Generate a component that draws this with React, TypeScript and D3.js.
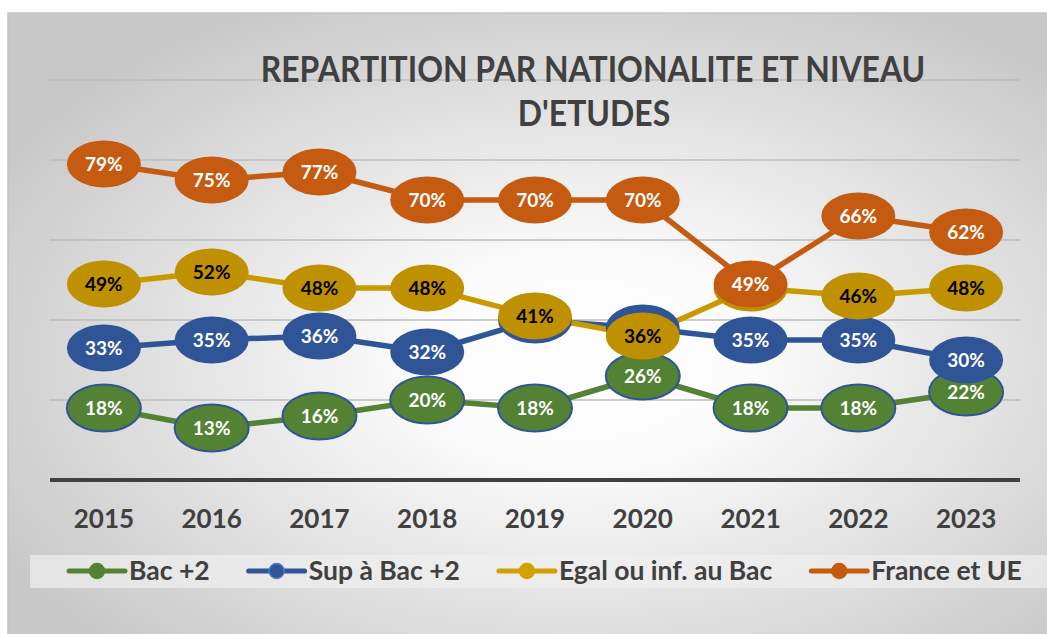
import React, { useEffect, useRef } from 'react';
import * as d3 from 'd3';

const years = ['2015', '2016', '2017', '2018', '2019', '2020', '2021', '2022', '2023'];
const bacPlus2 = [18, 13, 16, 20, 18, 26, 18, 18, 22];
const supBacPlus2 = [33, 35, 36, 32, 40, 38, 35, 35, 30];
const egalInfBac = [49, 52, 48, 48, 41, 36, 48, 46, 48];
const franceUE = [79, 75, 77, 70, 70, 70, 49, 66, 62];
const seriesNames = ['Bac +2', 'Sup à Bac +2', 'Egal ou inf. au Bac', 'France et UE'];
const yTicks = [0, 20, 40, 60, 80, 100];
const titleLines = ['REPARTITION PAR NATIONALITE ET NIVEAU', "D'ETUDES"];

const FONT = 'Lato, Carlito, Calibri, sans-serif';

export default function App() {
  const ref = useRef<SVGSVGElement>(null);

  useEffect(() => {
    const svg = d3.select(ref.current);
    svg.selectAll('*').remove();

    const series = [
      { name: seriesNames[0], values: bacPlus2, line: '#548235', fill: '#548235', stroke: '#2F5597', text: '#ffffff', legend: '#548235', mstroke: '#548235' },
      { name: seriesNames[1], values: supBacPlus2, line: '#2F5597', fill: '#2F5597', stroke: 'none', text: '#ffffff', legend: '#2F5597', mstroke: '#4a7bd0' },
      { name: seriesNames[2], values: egalInfBac, line: '#C99A00', fill: '#BF9000', stroke: 'none', text: '#000000', legend: '#D4A000', mstroke: '#D4A000' },
      { name: seriesNames[3], values: franceUE, line: '#C55A11', fill: '#C55A11', stroke: 'none', text: '#ffffff', legend: '#C55A11', mstroke: '#C55A11' },
    ];

    const defs = svg.append('defs');
    const grad = defs.append('radialGradient')
      .attr('id', 'bgGrad')
      .attr('cx', '0.55').attr('cy', '0.55').attr('r', '0.64');
    grad.append('stop').attr('offset', '0').attr('stop-color', '#ffffff');
    grad.append('stop').attr('offset', '0.25').attr('stop-color', '#fbfbfb');
    grad.append('stop').attr('offset', '1').attr('stop-color', '#c8c8c8');

    // background
    svg.append('rect').attr('x', 8).attr('y', 13).attr('width', 1045).attr('height', 630)
      .attr('fill', 'url(#bgGrad)').attr('stroke', '#c4c4c4').attr('stroke-width', 1.5);

    const x = d3.scaleBand<string>().domain(years).range([50, 1020]);
    const cx = (d: string) => (x(d) as number) + x.bandwidth() / 2;
    const y = d3.scaleLinear().domain([0, 100]).range([480, 80]);

    // gridlines
    svg.append('g').selectAll('line').data(yTicks.filter(t => t > 0)).join('line')
      .attr('x1', 50).attr('x2', 1020)
      .attr('y1', d => y(d)).attr('y2', d => y(d))
      .attr('stroke', '#bdbdbd').attr('stroke-width', 1.5);

    // title
    const tg = svg.append('g');
    const t1 = tg.append('text').text(titleLines[0])
      .attr('font-family', FONT).attr('font-weight', 700).attr('font-size', 36)
      .attr('fill', '#404040').attr('text-anchor', 'middle');
    const natural = (t1.node() as SVGTextElement).getComputedTextLength();
    const k = 665 / natural;
    t1.attr('transform', `translate(593,82) scale(${k},1)`);
    tg.append('text').text(titleLines[1])
      .attr('font-family', FONT).attr('font-weight', 700).attr('font-size', 36)
      .attr('fill', '#404040').attr('text-anchor', 'middle')
      .attr('transform', `translate(594,126) scale(${k},1)`);

    // axis line
    svg.append('line').attr('x1', 50).attr('x2', 1020).attr('y1', y(0)).attr('y2', y(0))
      .attr('stroke', '#404040').attr('stroke-width', 4);

    // year labels
    svg.append('g').selectAll('text').data(years).join('text')
      .attr('x', d => cx(d)).attr('y', 528)
      .attr('text-anchor', 'middle')
      .attr('font-family', FONT).attr('font-weight', 700).attr('font-size', 26)
      .attr('fill', '#404040').text(d => d);

    // lines
    const lineGen = d3.line<number>().x((_, i) => cx(years[i])).y(d => y(d));
    series.forEach(s => {
      svg.append('path').datum(s.values).attr('d', lineGen)
        .attr('fill', 'none').attr('stroke', s.line).attr('stroke-width', 5.5)
        .attr('stroke-linejoin', 'round');
    });

    // labels
    series.forEach(s => {
      const g = svg.append('g');
      const items = g.selectAll('g').data(s.values).join('g')
        .attr('transform', (d, i) => `translate(${cx(years[i])},${y(d)})`);
      items.append('ellipse').attr('rx', 37).attr('ry', 23.5)
        .attr('fill', s.fill).attr('stroke', s.stroke).attr('stroke-width', 2);
      items.append('text').attr('y', 6.5).attr('text-anchor', 'middle')
        .attr('font-family', FONT).attr('font-weight', 700).attr('font-size', 19)
        .attr('fill', s.text).text(d => `${d}%`);
    });

    // legend
    svg.append('rect').attr('x', 30).attr('y', 555).attr('width', 1017).attr('height', 33)
      .attr('fill', '#f0f0f0').attr('opacity', 0.7);
    let lx = 69;
    const ly = 571;
    series.forEach(s => {
      const g = svg.append('g');
      g.append('line').attr('x1', lx).attr('x2', lx + 56).attr('y1', ly).attr('y2', ly)
        .attr('stroke', s.legend).attr('stroke-width', 5).attr('stroke-linecap', 'round');
      g.append('circle').attr('cx', lx + 28).attr('cy', ly).attr('r', 7.5)
        .attr('fill', s.legend).attr('stroke', s.mstroke).attr('stroke-width', 1.5);
      const t = g.append('text').attr('x', lx + 60).attr('y', 580)
        .attr('font-family', FONT).attr('font-weight', 700).attr('font-size', 26.5)
        .attr('fill', '#404040').text(s.name);
      const w = (t.node() as SVGTextElement).getComputedTextLength();
      lx = lx + 60 + w + 39;
    });
  }, []);

  return (
    <svg ref={ref} width={1047} height={634}
      style={{ position: 'absolute', left: 0, top: 0, display: 'block' }} />
  );
}
